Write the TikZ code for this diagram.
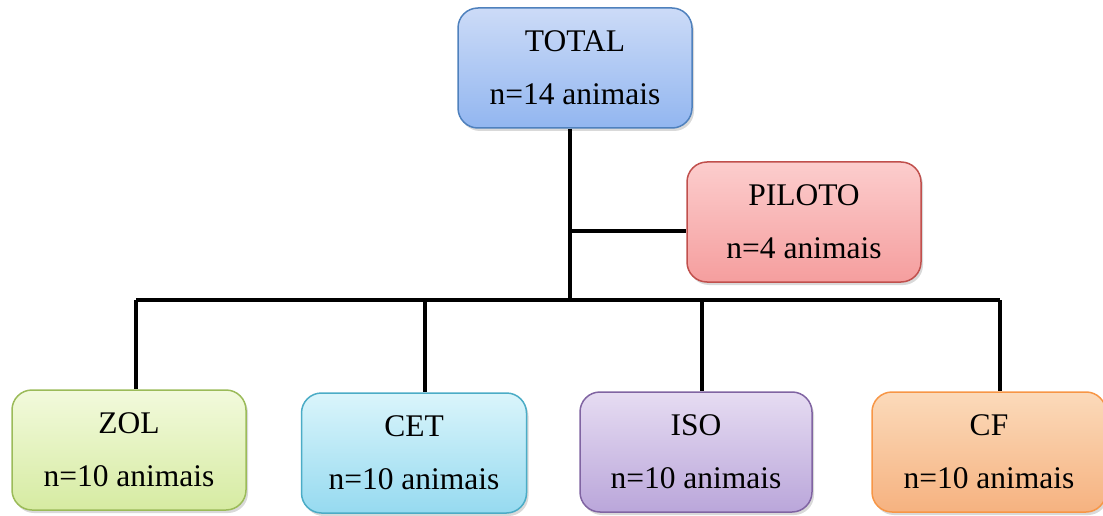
\documentclass[tikz,border=0pt]{standalone}
\usepackage{fontspec}
\setmainfont{Liberation Serif}
\usetikzlibrary{shadows}
\definecolor{bluetop}{RGB}{204,219,247}
\definecolor{bluebot}{RGB}{146,182,240}
\definecolor{blueline}{RGB}{79,129,189}
\definecolor{redtop}{RGB}{252,205,205}
\definecolor{redbot}{RGB}{245,158,158}
\definecolor{redline}{RGB}{192,80,77}
\definecolor{greentop}{RGB}{242,250,220}
\definecolor{greenbot}{RGB}{214,235,162}
\definecolor{greenline}{RGB}{155,187,89}
\definecolor{cyantop}{RGB}{218,245,251}
\definecolor{cyanbot}{RGB}{150,218,240}
\definecolor{cyanline}{RGB}{75,172,198}
\definecolor{violettop}{RGB}{230,220,242}
\definecolor{violetbot}{RGB}{186,166,218}
\definecolor{violetline}{RGB}{128,100,162}
\definecolor{orangetop}{RGB}{251,218,186}
\definecolor{orangebot}{RGB}{246,178,128}
\definecolor{orangeline}{RGB}{247,150,70}

\begin{document}
\begin{tikzpicture}[x=1pt, y=-1pt,
    groupbox/.style={rectangle, rounded corners=20pt, line width=1.5pt,
        minimum width=234pt, minimum height=120pt, align=center,
        font=\fontsize{31.5}{53}\selectfont,
        drop shadow={opacity=0.3, shadow xshift=2pt, shadow yshift=-3pt}},
    link/.style={line width=4pt}]
    \useasboundingbox (0,0) rectangle (1103,516);
    % top nodes
    \node[groupbox, draw=blueline, top color=bluetop, bottom color=bluebot] (total) at (575,68) {TOTAL\\n=14 animais};
    \node[groupbox, draw=redline, top color=redtop, bottom color=redbot] (piloto) at (804,222) {PILOTO\\n=4 animais};
    % groups
    \node[groupbox, draw=greenline, top color=greentop, bottom color=greenbot] (zol) at (129,450) {ZOL\\n=10 animais};
    \node[groupbox, draw=cyanline, top color=cyantop, bottom color=cyanbot, minimum width=225pt] (cet) at (414,453) {CET\\n=10 animais};
    \node[groupbox, draw=violetline, top color=violettop, bottom color=violetbot, minimum width=232pt] (iso) at (696,452) {ISO\\n=10 animais};
    \node[groupbox, draw=orangeline, top color=orangetop, bottom color=orangebot] (cf) at (989,452) {CF\\n=10 animais};
    % connectors
    \coordinate (bus) at (570,300);
    \coordinate (pj) at (570,231);
    \coordinate (bzol) at (136,300);
    \coordinate (bcet) at (425,300);
    \coordinate (biso) at (702,300);
    \coordinate (bcf) at (1000,300);
    \draw[link] (total.south -| bus) -- (bus);
    \draw[link] (pj) -- (piloto.west |- pj);
    \draw[link] (bzol) -- (bcf);
    \draw[link] (bzol) -- (bzol |- zol.north);
    \draw[link] (bcet) -- (bcet |- cet.north);
    \draw[link] (biso) -- (biso |- iso.north);
    \draw[link] (bcf) -- (bcf |- cf.north);
\end{tikzpicture}
\end{document}
